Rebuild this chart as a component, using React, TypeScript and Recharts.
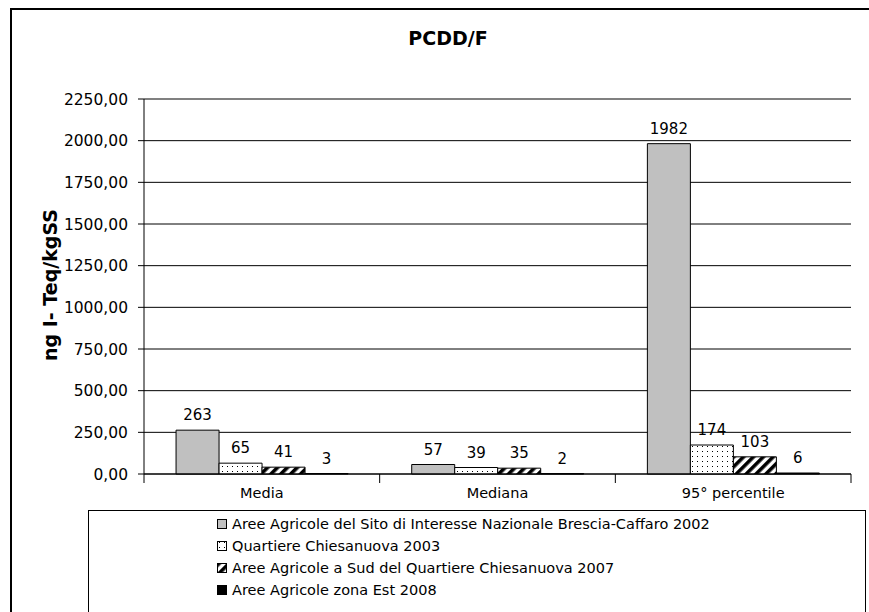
import React from 'react';
import { BarChart, Bar, XAxis, YAxis, CartesianGrid, LabelList, ReferenceLine } from 'recharts';

const categories = ['Media', 'Mediana', '95° percentile'];
const seriesNames = [
  'Aree Agricole del Sito di Interesse Nazionale Brescia-Caffaro 2002',
  'Quartiere Chiesanuova 2003',
  'Aree Agricole a Sud del Quartiere Chiesanuova 2007',
  'Aree Agricole zona Est 2008',
];
const s1 = [263, 57, 1982];
const s2 = [65, 39, 174];
const s3 = [41, 35, 103];
const s4 = [3, 2, 6];
const yTicks = [0, 250, 500, 750, 1000, 1250, 1500, 1750, 2000, 2250];

const data = categories.map((c, i) => ({ name: c, s1: s1[i], s2: s2[i], s3: s3[i], s4: s4[i] }));

const FONT = 'DejaVu Sans';
const fills = ['#C0C0C0', 'url(#dots)', 'url(#hatch)', '#000000'];
const keys = ['s1', 's2', 's3', 's4'];

const fmt = (v: number) => v.toFixed(2).replace('.', ',');

const XTick = (props: any) => {
  const { x, y, payload, index } = props;
  const half = payload && payload.offset ? payload.offset : 0;
  return (
    <g>
      <line x1={x - half} x2={x - half} y1={y - 8} y2={y + 1} stroke="#000" strokeWidth={1} />
      {index === categories.length - 1 && (
        <line x1={x + half} x2={x + half} y1={y - 8} y2={y + 1} stroke="#000" strokeWidth={1} />
      )}
      <text x={x} y={y + 16} textAnchor="middle" fontFamily={FONT} fontSize={14.5} fill="#000">
        {payload.value}
      </text>
    </g>
  );
};

const PatternDefs = ({ p }: { p: string }) => (
  <defs>
    <pattern id={p + 'dots'} width={5} height={5} patternUnits="userSpaceOnUse">
      <rect width={5} height={5} fill="#fff" />
      <rect x={2} y={1} width={1} height={1} fill="#000" />
    </pattern>
    <pattern id={p + 'hatch'} width={7} height={7} patternUnits="userSpaceOnUse" patternTransform="rotate(45)">
      <rect width={7} height={7} fill="#fff" />
      <rect x={0} y={0} width={3.6} height={7} fill="#000" />
    </pattern>
  </defs>
);

const LegendIcon = ({ i }: { i: number }) => {
  const p = 'lg' + i;
  const f = fills[i].startsWith('url') ? fills[i].replace('#', '#' + p) : fills[i];
  return (
    <svg width={10} height={10} style={{ marginRight: 5, verticalAlign: 'middle' }}>
      <PatternDefs p={p} />
      <rect x={0.5} y={0.5} width={9} height={9} fill={f} stroke="#000" strokeWidth={1} />
    </svg>
  );
};

export default function App() {
  return (
    <div style={{ position: 'absolute', left: 0, top: 0, width: 869, height: 612, overflow: 'hidden', background: '#fff' }}>
      <div style={{ position: 'absolute', left: 10, top: 8, width: 900, height: 700, border: '2px solid #000' }} />
      <div style={{ position: 'absolute', left: 0, top: 0 }}>
        <BarChart width={869} height={612} data={data} margin={{ top: 99, right: 18, bottom: 108, left: 84 }} barCategoryGap="13.6%" barGap={0}>
          <PatternDefs p="" />
          <text x={448} y={45} textAnchor="middle" fontFamily={FONT} fontWeight="bold" fontSize={19} fill="#000">PCDD/F</text>
          <text x={0} y={0} transform="translate(57,285) rotate(-90)" textAnchor="middle" fontFamily={FONT} fontWeight="bold" fontSize={19} fill="#000">ng I- Teq/kgSS</text>
          <CartesianGrid vertical={false} stroke="#000" strokeWidth={1} />
          <ReferenceLine y={2250} stroke="#808080" strokeWidth={1.5} />
          <XAxis dataKey="name" height={30} axisLine={{ stroke: '#000' }} tickLine={false} tick={<XTick />} interval={0} />
          <YAxis width={60} domain={[0, 2250]} ticks={yTicks} tickFormatter={fmt} axisLine={{ stroke: '#000' }} tickLine={{ stroke: '#000' }} tickSize={6} tickMargin={10} tick={{ fontFamily: FONT, fontSize: 15.5, fill: '#000' }} interval={0} />
          <YAxis yAxisId="r" orientation="right" width={0} domain={[0, 2250]} axisLine={{ stroke: '#808080', strokeWidth: 1.5 }} tick={false} tickLine={false} />
          {keys.map((k, i) => (
            <Bar key={k} dataKey={k} fill={fills[i]} stroke="#000" strokeWidth={1} isAnimationActive={false}>
              <LabelList dataKey={k} position="top" offset={10} fontFamily={FONT} fontSize={15} fill="#000" />
            </Bar>
          ))}
        </BarChart>
      </div>
      <div style={{ position: 'absolute', left: 88, top: 510, width: 778, height: 150, border: '1.5px solid #000', background: '#fff', fontFamily: FONT, fontSize: 14.5, color: '#000', boxSizing: 'border-box', paddingLeft: 128, paddingTop: 1 }}>
        {seriesNames.map((n, i) => (
          <div key={n} style={{ height: 22, lineHeight: '22px', whiteSpace: 'nowrap' }}>
            <LegendIcon i={i} />
            <span style={{ verticalAlign: 'middle' }}>{n}</span>
          </div>
        ))}
      </div>
    </div>
  );
}
